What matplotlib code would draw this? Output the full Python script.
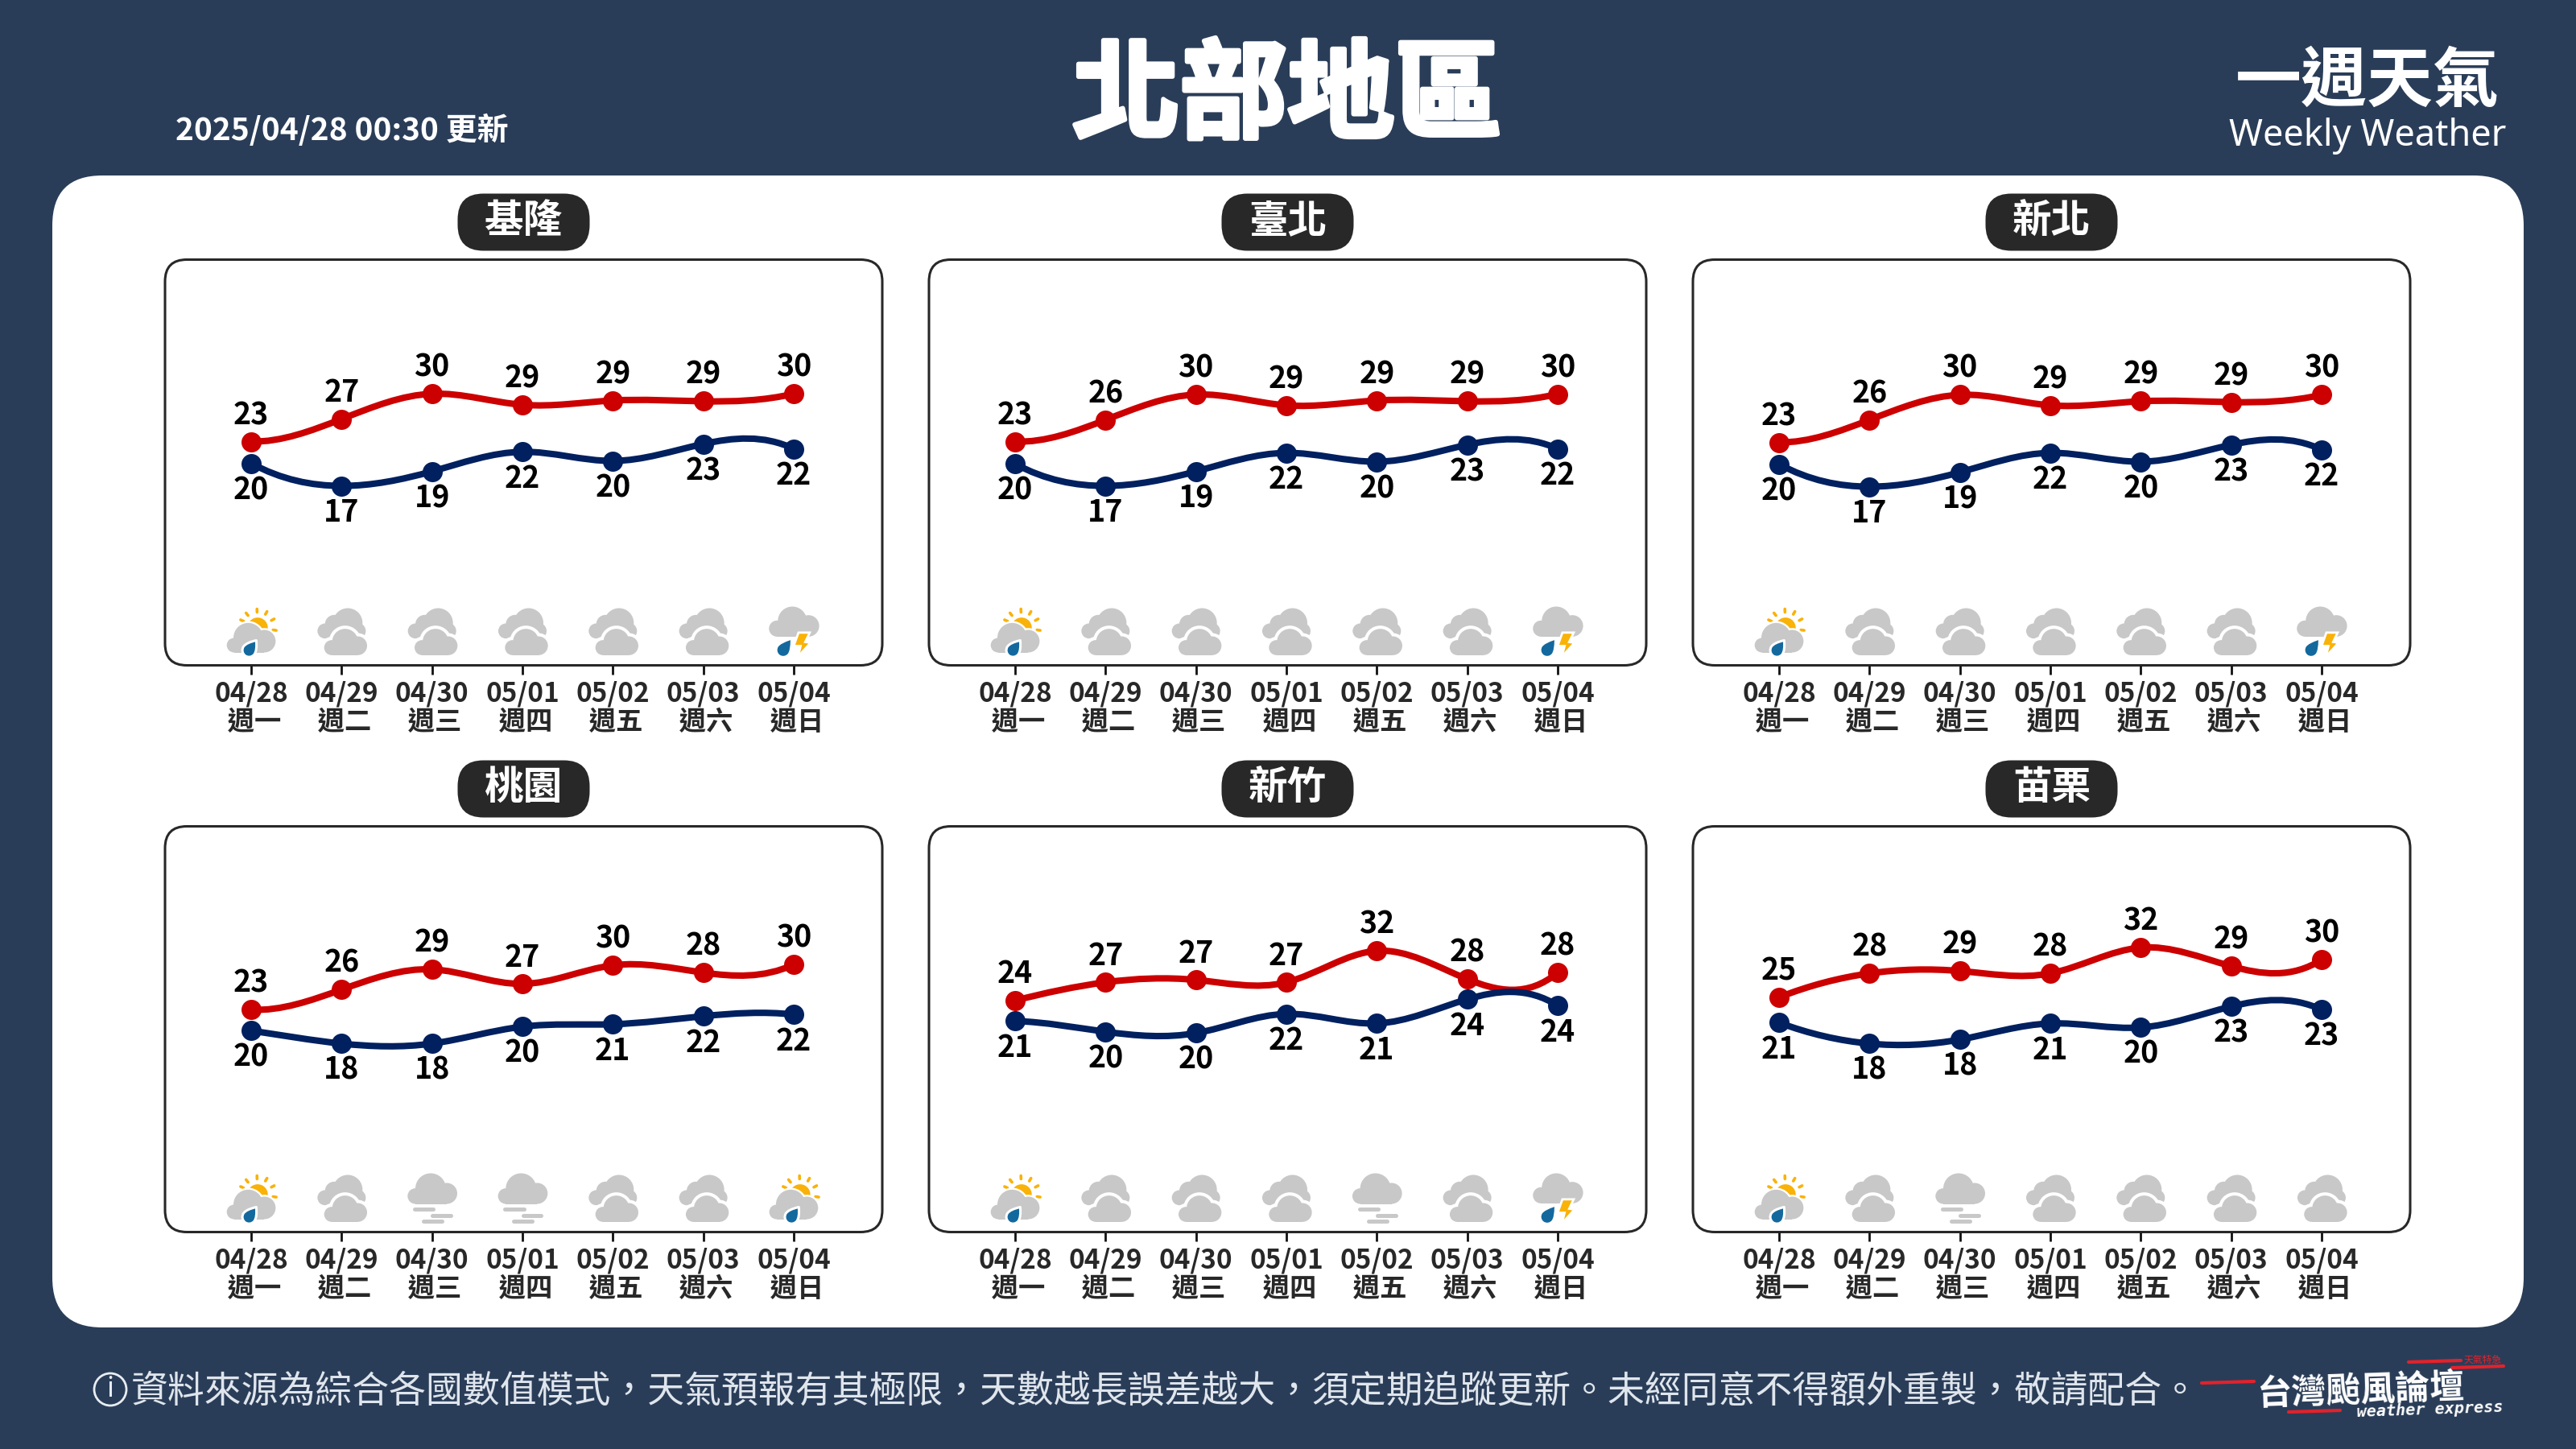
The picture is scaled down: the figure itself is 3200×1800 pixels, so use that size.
import numpy as np
import matplotlib
matplotlib.use("Agg")
import matplotlib.pyplot as plt
import matplotlib.patheffects as pe
from matplotlib.patches import Circle, FancyBboxPatch, PathPatch, Polygon, Rectangle, Wedge
from matplotlib.path import Path

dates = ["04/28", "04/29", "04/30", "05/01", "05/02", "05/03", "05/04"]
weekdays = ["週一", "週二", "週三", "週四", "週五", "週六", "週日"]
cities = ["基隆", "臺北", "新北", "桃園", "新竹", "苗栗"]

# curve positions, the printed numbers are kept apart
keelung_high = [23.18, 26.40, 30.00, 28.43, 29.04, 28.93, 30.00]
keelung_low = [20.08, 16.86, 18.93, 21.72, 20.42, 22.84, 22.15]
taipei_high = [23.18, 26.28, 29.89, 28.35, 29.04, 28.93, 29.96]
taipei_low = [20.00, 16.86, 18.93, 21.57, 20.31, 22.72, 22.15]
newtaipei_high = [23.07, 26.28, 29.85, 28.35, 28.93, 28.81, 29.85]
newtaipei_low = [19.96, 16.75, 18.81, 21.57, 20.31, 22.72, 22.03]
taoyuan_high = [23.14, 26.20, 29.27, 27.06, 29.88, 28.78, 30.00]
taoyuan_low = [19.96, 18.00, 18.00, 20.57, 20.94, 22.16, 22.41]
hsinchu_high = [24.75, 27.41, 27.76, 27.41, 32.00, 27.88, 28.82]
hsinchu_low = [21.76, 20.20, 20.00, 22.80, 21.41, 24.94, 24.00]
miaoli_high = [24.75, 28.24, 28.59, 28.24, 32.00, 29.29, 30.24]
miaoli_low = [21.06, 18.00, 18.59, 20.94, 20.35, 23.41, 22.94]

keelung_high_labels = [23, 27, 30, 29, 29, 29, 30]
keelung_low_labels = [20, 17, 19, 22, 20, 23, 22]
taipei_high_labels = [23, 26, 30, 29, 29, 29, 30]
taipei_low_labels = [20, 17, 19, 22, 20, 23, 22]
newtaipei_high_labels = [23, 26, 30, 29, 29, 29, 30]
newtaipei_low_labels = [20, 17, 19, 22, 20, 23, 22]
taoyuan_high_labels = [23, 26, 29, 27, 30, 28, 30]
taoyuan_low_labels = [20, 18, 18, 20, 21, 22, 22]
hsinchu_high_labels = [24, 27, 27, 27, 32, 28, 28]
hsinchu_low_labels = [21, 20, 20, 22, 21, 24, 24]
miaoli_high_labels = [25, 28, 29, 28, 32, 29, 30]
miaoli_low_labels = [21, 18, 18, 21, 20, 23, 23]

keelung_icons = ["sun_rain", "cloudy", "cloudy", "cloudy", "cloudy", "cloudy", "thunder"]
taipei_icons = ["sun_rain", "cloudy", "cloudy", "cloudy", "cloudy", "cloudy", "thunder"]
newtaipei_icons = ["sun_rain", "cloudy", "cloudy", "cloudy", "cloudy", "cloudy", "thunder"]
taoyuan_icons = ["sun_rain", "cloudy", "fog", "fog", "cloudy", "cloudy", "sun_rain"]
hsinchu_icons = ["sun_rain", "cloudy", "cloudy", "cloudy", "fog", "cloudy", "thunder"]
miaoli_icons = ["sun_rain", "cloudy", "fog", "cloudy", "cloudy", "cloudy", "cloudy"]

highs = [keelung_high, taipei_high, newtaipei_high, taoyuan_high, hsinchu_high, miaoli_high]
lows = [keelung_low, taipei_low, newtaipei_low, taoyuan_low, hsinchu_low, miaoli_low]
high_labels = [keelung_high_labels, taipei_high_labels, newtaipei_high_labels,
               taoyuan_high_labels, hsinchu_high_labels, miaoli_high_labels]
low_labels = [keelung_low_labels, taipei_low_labels, newtaipei_low_labels,
              taoyuan_low_labels, hsinchu_low_labels, miaoli_low_labels]
icons = [keelung_icons, taipei_icons, newtaipei_icons, taoyuan_icons, hsinchu_icons, miaoli_icons]

NAVY_BG = "#2a3d58"
RED = "#cc0000"
BLUE = "#00205f"
DARK = "#282828"
GRAY = "#c8c8c8"
ORANGE = "#f9b208"
DROP = "#13699e"
LOGO_RED = "#e2222b"
CJK = ["Noto Sans CJK TC", "DejaVu Sans"]

plt.rcParams["font.family"] = CJK

fig = plt.figure(figsize=(32, 18), dpi=100, facecolor=NAVY_BG)

# whole-figure layer in pixels, y runs down
ov = fig.add_axes([0, 0, 1, 1])
ov.set_xlim(0, 3200)
ov.set_ylim(1800, 0)
ov.axis("off")


def round_box(ax, x0, y0, x1, y1, radius, **kw):
    box = FancyBboxPatch((x0, y0), x1 - x0, y1 - y0,
                         boxstyle="round,pad=0,rounding_size=%g" % radius, **kw)
    ax.add_patch(box)


def smooth_path(xs, ys):
    # cubic spline through the points (not-a-knot ends), drawn as bezier segments
    n = len(xs)
    y = np.asarray(ys, dtype=float)
    d = np.diff(y)
    A = np.zeros((n, n))
    b = np.zeros(n)
    A[0, 0], A[0, 2] = 1, -1
    b[0] = 2 * (d[0] - d[1])
    A[-1, -3], A[-1, -1] = 1, -1
    b[-1] = 2 * (d[-2] - d[-1])
    for i in range(1, n - 1):
        A[i, i - 1], A[i, i], A[i, i + 1] = 1, 4, 1
        b[i] = 3 * (y[i + 1] - y[i - 1])
    s = np.linalg.solve(A, b)
    verts = [(xs[0], y[0])]
    codes = [Path.MOVETO]
    for i in range(n - 1):
        verts += [(xs[i] + 1 / 3, y[i] + s[i] / 3), (xs[i + 1] - 1 / 3, y[i + 1] - s[i + 1] / 3), (xs[i + 1], y[i + 1])]
        codes += [Path.CURVE4] * 3
    return Path(verts, codes)


def cloud(x, y, circles, rect, gap=0, z=3):
    # circle and rect sizes are in thirds of a pixel
    if gap:
        for cx, cy, r in circles:
            ov.add_patch(Circle((x + cx / 3, y + cy / 3), (r + gap) / 3, fc="white", ec="none", zorder=z))
        ov.add_patch(Rectangle((x + rect[0] / 3, y + (rect[1] - gap) / 3), (rect[2] - rect[0]) / 3,
                               (rect[3] - rect[1] + 2 * gap) / 3, fc="white", ec="none", zorder=z))
    for cx, cy, r in circles:
        ov.add_patch(Circle((x + cx / 3, y + cy / 3), r / 3, fc=GRAY, ec="none", zorder=z))
    ov.add_patch(Rectangle((x + rect[0] / 3, y + rect[1] / 3), (rect[2] - rect[0]) / 3,
                           (rect[3] - rect[1]) / 3, fc=GRAY, ec="none", zorder=z))


def drop(x, y, cx, cy, r, tipx, tipy, outline=0, z=5):
    c = np.array([x + cx / 3, y + cy / 3])
    tip = np.array([x + tipx / 3, y + tipy / 3])
    r = r / 3
    d = (tip - c) / np.linalg.norm(tip - c)
    nrm = np.array([d[1], -d[0]])
    k = 0.5523 * r
    verts = [tip, c + nrm * r + d * r * 0.7, c + nrm * r,
             c + nrm * r - d * k, c - d * r + nrm * k, c - d * r,
             c - d * r - nrm * k, c - nrm * r - d * k, c - nrm * r,
             c - nrm * r + d * r * 0.7, tip, tip]
    codes = [Path.MOVETO, Path.CURVE3, Path.CURVE3,
             Path.CURVE4, Path.CURVE4, Path.CURVE4,
             Path.CURVE4, Path.CURVE4, Path.CURVE4,
             Path.CURVE3, Path.CURVE3, Path.CLOSEPOLY]
    ov.add_patch(PathPatch(Path(verts, codes), fc=DROP, ec="white" if outline else "none",
                           lw=outline, zorder=z, joinstyle="round"))


def draw_icon(kind, x, y):
    # x is the tick position, y the bottom edge of the box
    if kind == "sun_rain":
        sx, sy = x + 24 / 3, y - 140 / 3
        ov.add_patch(Wedge((sx, sy), 38 / 3, 170, 370, fc=ORANGE, ec="none", zorder=3))
        for a in [155, 128, 92, 60, 28, 352]:
            t = np.radians(a)
            ov.plot([sx + 58 / 3 * np.cos(t), sx + 70 / 3 * np.cos(t)],
                    [sy - 58 / 3 * np.sin(t), sy - 70 / 3 * np.sin(t)],
                    color=ORANGE, lw=2.6, solid_capstyle="round", zorder=3)
        cloud(x, y, [(-64, -75, 27), (-11, -103, 55), (49, -90, 42)], (-64, -88, 49, -48), gap=7, z=4)
        drop(x, y, -8, -56, 25, 19, -93, outline=2.2, z=5)
    elif kind == "cloudy":
        cloud(x, y, [(-62, -128, 28), (-27, -153, 35), (23, -158, 55), (60, -128, 30)],
              (-62, -148, 60, -108), z=3)
        cloud(x, y, [(-37, -66, 28), (13, -88, 48), (60, -73, 35)], (-37, -73, 60, -38), gap=12, z=4)
    elif kind == "fog":
        cloud(x, y, [(-62, -134, 29), (-5, -162, 57), (55, -144, 39)], (-62, -137, 55, -105), z=3)
        for x0, x1, dy in [(-65, 5, -86), (2, 70, -63), (-32, 37, -40)]:
            ov.plot([x + x0 / 3, x + x1 / 3], [y + dy / 3, y + dy / 3], color=GRAY, lw=3.6,
                    solid_capstyle="round", zorder=3)
    elif kind == "thunder":
        cloud(x, y, [(-62, -137, 30), (-5, -165, 54), (55, -147, 40)], (-62, -137, 55, -107), z=3)
        bolt = [(18, -122), (60, -122), (43, -87), (63, -84), (16, -32), (26, -72), (0, -72)]
        ov.add_patch(Polygon([(x + a / 3, y + b / 3) for a, b in bolt], closed=True, fc=ORANGE,
                             ec="white", lw=2.0, zorder=5, joinstyle="miter"))
        drop(x, y, -39, -57, 22, -12, -94, outline=0, z=5)


# background card
round_box(ov, 65, 218, 3135, 1649, 62, fc="white", ec="none", zorder=1)

box_w = 891
box_h = 504
col_x = [205, 1154, 2103]
row_y = [322.5, 1026.5]
# bottom and top of the value axis for each box
ylims = [(-8.74, 49.14), (-8.74, 49.14), (-8.74, 49.14),
         (-10.61, 50.98), (-9.02, 50.16), (-9.49, 49.69)]

for p, city in enumerate(cities):
    bx = col_x[p % 3]
    by = row_y[p // 3]
    round_box(ov, bx, by, bx + box_w, by + box_h, 27, fc="white", ec=DARK, lw=2.2, zorder=2)
    cx = bx + box_w / 2
    round_box(ov, cx - 82, by - 82, cx + 82, by - 11, 32, fc=DARK, ec="none", zorder=2)
    ov.text(cx, by - 48, city, color="white", fontsize=35, fontweight="bold",
            ha="center", va="center", zorder=3)

    ax = fig.add_axes([bx / 3200, 1 - (by + box_h) / 1800, box_w / 3200, box_h / 1800], zorder=2)
    ax.patch.set_alpha(0)
    ax.set_xlim(-0.953, 6.98)
    ax.set_ylim(*ylims[p])
    for s in ax.spines.values():
        s.set_visible(False)
    ax.set_yticks([])
    x = np.arange(len(dates))
    # leading space nudges the weekday line right, as in the picture
    ax.set_xticks(x, [d + "\n " + w for d, w in zip(dates, weekdays)])
    ax.tick_params(axis="x", length=8, width=2, color="#111111", pad=6, labelcolor=DARK)
    for lab in ax.get_xticklabels():
        lab.set_fontsize(24)
        lab.set_fontweight("bold")
        lab.set_linespacing(1.08)

    ax.add_patch(PathPatch(smooth_path(x, highs[p]), fc="none", ec=RED, lw=5.8, capstyle="round", zorder=3))
    ax.plot(x, highs[p], "o", color=RED, ms=18, mew=0, zorder=4)
    ax.add_patch(PathPatch(smooth_path(x, lows[p]), fc="none", ec=BLUE, lw=5.8, capstyle="round", zorder=5))
    ax.plot(x, lows[p], "o", color=BLUE, ms=18, mew=0, zorder=6)
    for i in x:
        ax.annotate(str(high_labels[p][i]), (i, highs[p][i]), xytext=(0, 33), textcoords="offset pixels",
                    ha="center", va="center", fontsize=27, fontweight="bold", color="black", zorder=7)
        ax.annotate(str(low_labels[p][i]), (i, lows[p][i]), xytext=(0, -33), textcoords="offset pixels",
                    ha="center", va="center", fontsize=27, fontweight="bold", color="black", zorder=7)
        tick_px = ax.transData.transform((i, 0))[0]
        draw_icon(icons[p][i], tick_px, by + box_h)

# header
ov.text(1599, 122, "北部地區", color="white", fontsize=96, fontweight="bold", ha="center", va="center",
        path_effects=[pe.withStroke(linewidth=4, foreground="white")])
ov.text(218, 162, "2025/04/28 00:30 更新", color="white", fontsize=28, fontweight="bold", ha="left", va="center")
ov.text(2941, 102, "一週天氣", color="white", fontsize=59, fontweight="bold", ha="center", va="center")
ov.text(2941, 169, "Weekly Weather", color="white", fontsize=32.5, family=["Noto Sans", "DejaVu Sans"],
        ha="center", va="center")

# footer
ov.add_patch(Circle((137, 1726), 20, fc="none", ec="#e8edf2", lw=2))
ov.text(137, 1726, "i", color="#e8edf2", fontsize=25, family=["Noto Sans", "DejaVu Sans"], ha="center", va="center")
ov.text(163, 1728, "資料來源為綜合各國數值模式，天氣預報有其極限，天數越長誤差越大，須定期追蹤更新。未經同意不得額外重製，敬請配合。",
        color="#dfe5ec", fontsize=33, ha="left", va="center")

# logo
for x0, y0, x1, y1 in [(2735, 1718, 2800, 1716), (2843, 1754, 2907, 1752),
                       (2992, 1692, 3057, 1690), (3046, 1699, 3110, 1697)]:
    ov.plot([x0, x1], [y0, y1], color=LOGO_RED, lw=3, solid_capstyle="round")
ov.text(2932, 1727, "台灣颱風論壇", color="white", fontsize=31, fontweight="bold",
        ha="center", va="center", rotation=2, rotation_mode="anchor")
ov.text(3019, 1751, "weather express", color="white", fontsize=14.5, fontweight="bold", style="oblique",
        family="DejaVu Sans Mono", ha="center", va="center", rotation=2, rotation_mode="anchor")
ov.text(3084, 1689, "天氣特急", color=LOGO_RED, fontsize=8.5, ha="center", va="center")

fig.savefig("out.png", dpi=100, facecolor=NAVY_BG)
